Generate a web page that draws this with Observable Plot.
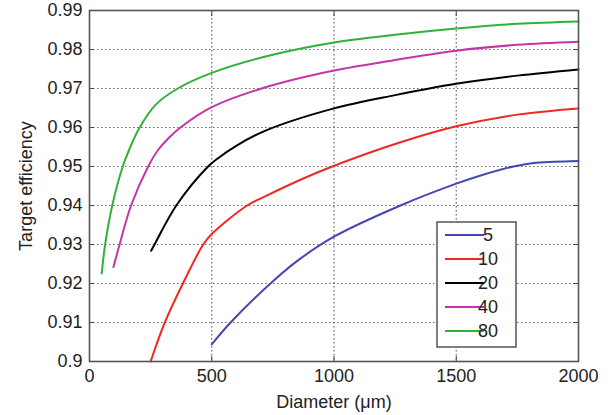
<!DOCTYPE html>
<html>
<head>
<meta charset="utf-8">
<script src="https://cdn.jsdelivr.net/npm/d3@7"></script>
<script src="https://cdn.jsdelivr.net/npm/@observablehq/plot@0.6"></script>
<style>
  html, body { margin: 0; padding: 0; background: #fff; }
  #chart { width: 609px; height: 415px; }
</style>
</head>
<body>
<div id="chart"></div>
<script>
// Series labels and colours
const seriesNames = ["5", "10", "20", "40", "80"];
const seriesColors = ["#4646b4", "#ee2a22", "#000000", "#c535a8", "#2fb23a"];

// Diameter (µm) and target efficiency for each series
const diam5  = [500, 577, 740, 850, 1000, 1272, 1500, 1600, 1734, 1816, 1900, 2000];
const eff5   = [0.9044, 0.910, 0.920, 0.9258, 0.9320, 0.940, 0.9456, 0.9477, 0.950, 0.9509, 0.9512, 0.9514];

const diam10 = [250, 308, 382, 465, 500, 645, 727, 863, 993, 1272, 1500, 1750, 2000];
const eff10  = [0.900, 0.910, 0.920, 0.930, 0.9327, 0.940, 0.9426, 0.9466, 0.950, 0.9562, 0.9603, 0.9633, 0.9649];

const diam20 = [252, 266, 355, 485, 523, 600, 720, 1000, 1250, 1500, 1750, 2000];
const eff20  = [0.9284, 0.930, 0.940, 0.950, 0.9520, 0.9553, 0.9592, 0.9649, 0.9683, 0.9712, 0.9733, 0.9749];

const diam40 = [98, 123, 170, 240, 279, 327, 372, 500, 720, 1000, 1250, 1500, 1750, 2000];
const eff40  = [0.9242, 0.930, 0.940, 0.950, 0.9541, 0.9575, 0.960, 0.9652, 0.9703, 0.9746, 0.9773, 0.9797, 0.9812, 0.9820];

const diam80 = [50, 64, 93, 136, 161, 205, 273, 361, 500, 720, 1000, 1250, 1500, 1750, 2000];
const eff80  = [0.9226, 0.930, 0.940, 0.950, 0.9541, 0.960, 0.9660, 0.970, 0.9740, 0.9782, 0.9818, 0.9838, 0.9854, 0.9866, 0.9872];

// Axis ticks
const xTicks = [0, 500, 1000, 1500, 2000];
const xTickLabels = ["0", "500", "1000", "1500", "2000"];
const yTicks = [0.9, 0.91, 0.92, 0.93, 0.94, 0.95, 0.96, 0.97, 0.98, 0.99];
const yTickLabels = ["0.9", "0.91", "0.92", "0.93", "0.94", "0.95", "0.96", "0.97", "0.98", "0.99"];

const diams = [diam5, diam10, diam20, diam40, diam80];
const effs = [eff5, eff10, eff20, eff40, eff80];
const data = [];
seriesNames.forEach((s, i) => {
  diams[i].forEach((d, j) => data.push({series: s, diameter: d, eff: effs[i][j]}));
});

const innerX = xTicks.slice(1, -1);
const innerY = yTicks.slice(1, -1);

function legend(index, scales, values, dimensions) {
  const g = d3.create("svg:g");
  const x0 = 437, y0 = 222, w = 79, h = 125, row = 24;
  g.append("rect").attr("x", x0).attr("y", y0).attr("width", w).attr("height", h)
    .attr("fill", "#fff").attr("stroke", "#555").attr("stroke-width", 1.5);
  seriesNames.forEach((s, i) => {
    const cy = y0 + 13 + i * row;
    g.append("line").attr("x1", x0 + 8).attr("x2", x0 + 47).attr("y1", cy).attr("y2", cy)
      .attr("stroke", seriesColors[i]).attr("stroke-width", 2);
    g.append("text").attr("x", x0 + 51).attr("y", cy).attr("dy", "0.36em")
      .attr("fill", "#222").attr("font-size", 18).text(s);
  });
  return g.node();
}

const noText = () => "";

const chart = Plot.plot({
  width: 609,
  height: 415,
  marginLeft: 89,
  marginRight: 31,
  marginTop: 10,
  marginBottom: 54,
  style: {fontFamily: "'Liberation Sans', Arial, sans-serif", fontSize: "18px", color: "#222", background: "#fff"},
  x: {domain: [0, 2000]},
  y: {domain: [0.9, 0.99]},
  color: {domain: seriesNames, range: seriesColors},
  marks: [
    Plot.gridX(innerX, {stroke: "#666", strokeOpacity: 1, strokeWidth: 1.2, strokeDasharray: "1.5,2.5"}),
    Plot.gridY(innerY, {stroke: "#666", strokeOpacity: 1, strokeWidth: 1.2, strokeDasharray: "1.5,2.5"}),
    Plot.axisY(yTicks, {anchor: "left", tickSize: -5, tickFormat: noText, label: null, stroke: "#444"}),
    Plot.axisY(yTicks, {anchor: "right", tickSize: -5, tickFormat: noText, label: null, stroke: "#444"}),
    Plot.axisX(xTicks, {anchor: "bottom", tickSize: -5, tickFormat: noText, label: null, stroke: "#444"}),
    Plot.axisX(xTicks, {anchor: "top", tickSize: -5, tickFormat: noText, label: null, stroke: "#444"}),
    Plot.axisY(yTicks, {anchor: "left", tickSize: 0, tickPadding: 7, fontSize: 18,
      tickFormat: (d, i) => yTickLabels[i],
      label: "Target efficiency", labelAnchor: "center", labelOffset: 70, labelArrow: "none"}),
    Plot.axisX(xTicks, {anchor: "bottom", tickSize: 0, tickPadding: 8, fontSize: 18,
      tickFormat: (d, i) => xTickLabels[i],
      label: "Diameter (μm)", labelAnchor: "center", labelOffset: 46, labelArrow: "none"}),
    Plot.lineY(data, {x: "diameter", y: "eff", z: "series", stroke: "series", strokeWidth: 2, curve: "catmull-rom"}),
    Plot.frame({stroke: "#555", strokeWidth: 1.6}),
    legend
  ]
});
document.getElementById("chart").append(chart);
</script>
</body>
</html>
